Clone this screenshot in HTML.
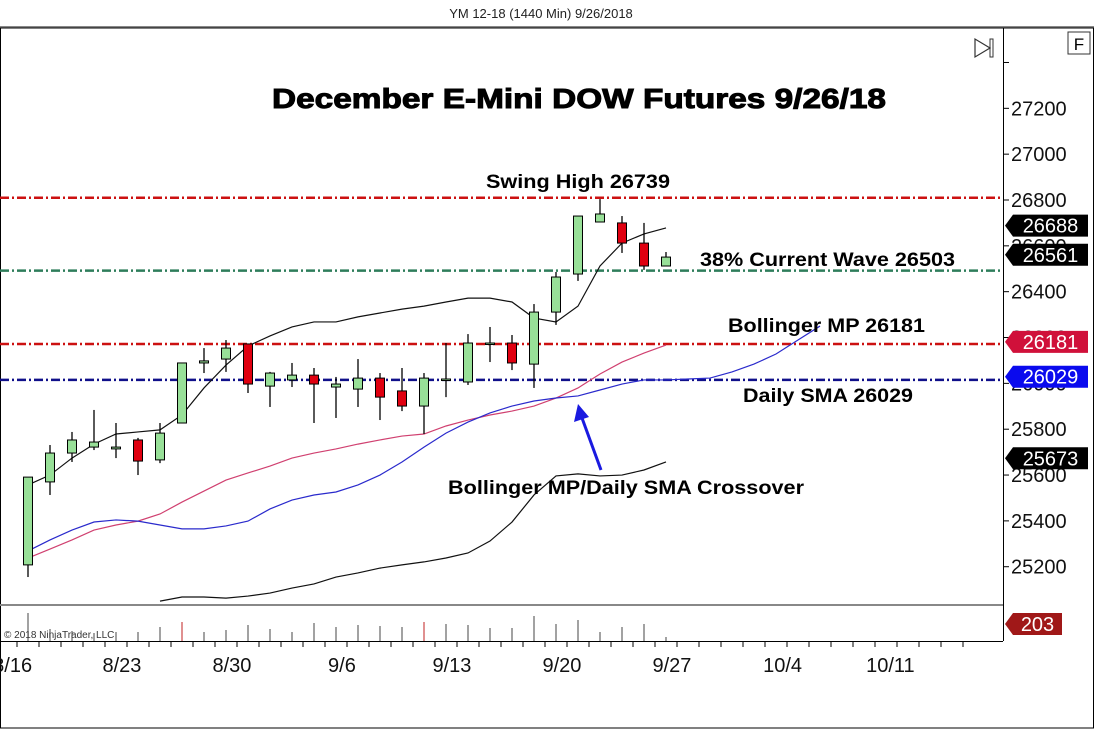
<!DOCTYPE html>
<html><head><meta charset="utf-8"><style>
body{margin:0;background:#fff;width:1094px;height:729px;overflow:hidden}
svg{display:block;font-family:"Liberation Sans",Arial,sans-serif}
</style></head><body>
<svg id="c" width="1094" height="729" viewBox="0 0 1094 729">
<text x="541" y="18" font-size="13" text-anchor="middle" fill="#222">YM 12-18 (1440 Min)  9/26/2018</text>
<rect x="0" y="26" width="1094" height="2" fill="#888"/>
<rect x="0.5" y="28" width="1093" height="700" fill="none" stroke="#000"/>
<g id="plot"></g>
<text x="272" y="108" font-size="28" font-weight="bold" stroke="#000" stroke-width="1" textLength="614" lengthAdjust="spacingAndGlyphs">December E-Mini DOW Futures 9/26/18</text>
<text x="486" y="188" font-size="19" font-weight="bold" textLength="184" lengthAdjust="spacingAndGlyphs">Swing High 26739</text>
<text x="700" y="266" font-size="19" font-weight="bold" textLength="255" lengthAdjust="spacingAndGlyphs">38% Current Wave 26503</text>
<text x="728" y="332" font-size="19" font-weight="bold" textLength="197" lengthAdjust="spacingAndGlyphs">Bollinger MP 26181</text>
<text x="743" y="402" font-size="19" font-weight="bold" textLength="170" lengthAdjust="spacingAndGlyphs">Daily SMA 26029</text>
<text x="448" y="494" font-size="19" font-weight="bold" textLength="356" lengthAdjust="spacingAndGlyphs">Bollinger MP/Daily SMA Crossover</text>
<g>
<line x1="601" y1="470" x2="582" y2="418" stroke="#1a1ae0" stroke-width="3"/>
<polygon points="578,404 574,422 589,417" fill="#1a1ae0"/>
</g>
<g><polygon points="975,39 975,57 990,48" fill="none" stroke="#333" stroke-width="1.2"/><rect x="990" y="39" width="3" height="18" fill="none" stroke="#333"/></g>
<g><rect x="1068" y="32" width="22" height="22" fill="#fff" stroke="#333"/><text x="1079" y="50" font-size="17" text-anchor="middle">F</text></g>
<text x="4" y="638" font-size="10" fill="#333">© 2018 NinjaTrader, LLC</text>
</svg>
<script>
const dates=['8/16','8/17','8/20','8/21','8/22','8/23','8/24','8/27','8/28','8/29','8/30','8/31','9/4','9/5','9/6','9/7','9/10','9/11','9/12','9/13','9/14','9/17','9/18','9/19','9/20','9/21','9/24','9/25','9/26','9/27'];
const open=[25208,25570,25696,25722,25714,25753,25666,25827,26089,26106,26172,25988,26015,26036,25984,25975,26023,25967,25901,26017,26006,26173,26176,26084,26311,26477,26704,26700,26612,26512];
const high=[25591,25731,25788,25884,25827,25762,25827,26089,26154,26189,26172,26050,26089,26067,26028,26106,26045,26067,26045,26176,26215,26246,26211,26346,26486,26730,26804,26730,26700,26573];
const low=[25155,25513,25657,25709,25674,25600,25652,25827,26045,26050,25958,25897,25984,25827,25849,25897,25840,25879,25779,25940,25993,26093,26058,25980,26255,26447,26704,26569,26495,26512];
const close=[25591,25696,25753,25744,25722,25661,25783,26089,26098,26154,25997,26045,26036,25997,25997,26023,25940,25901,26023,26019,26176,26176,26089,26311,26464,26730,26739,26612,26512,26551];
const volume=[280,120,100,80,90,90,140,190,90,110,160,120,90,180,140,160,150,140,190,170,160,130,130,250,170,210,90,140,170,40];
const volRed=[7,18];
const upperBand=[25557,25600,25674,25735,25779,25788,25797,25862,25980,26080,26163,26207,26246,26268,26268,26290,26307,26324,26337,26355,26372,26372,26355,26285,26268,26337,26512,26612,26652,26678];
const lowerBandStart=6;
const lowerBand=[25050,25068,25068,25063,25072,25085,25107,25125,25155,25173,25194,25208,25221,25238,25260,25312,25395,25513,25596,25605,25596,25600,25622,25657];
const midBand=[25238,25277,25317,25360,25382,25399,25430,25482,25530,25578,25609,25639,25674,25696,25714,25735,25753,25770,25779,25814,25840,25862,25879,25901,25936,25980,26041,26093,26132,26167];
const dailySMA=[25269,25317,25360,25395,25404,25399,25382,25365,25365,25378,25399,25452,25491,25513,25526,25557,25600,25657,25722,25783,25831,25871,25901,25923,25936,25945,25971,25997,26015,26015,26019,26023,26050,26084,26128,26189,26250];
const levels=[26810,26492,26172,26015];
const levelColors=['#cc1111','#2e7d5b','#cc1111','#10108a'];
const priceTicks=[27400,27200,27000,26800,26600,26400,26200,26000,25800,25600,25400,25200];
const dateLabels=['8/16','8/23','8/30','9/6','9/13','9/20','9/27','10/4','10/11'];
const dateLabelIdx=[-0.7,4.27,9.27,14.27,19.27,24.27,29.27,34.3,39.2];
const tagValues=[26688,26561,26181,26029,25673];
const tagColors=['#000','#000','#d0103a','#0a0aee','#000'];
const volTag=203;

const NS='http://www.w3.org/2000/svg';
const g=document.getElementById('plot');
const X=i=>28+i*22;
const Y=v=>200+(26800-v)*0.2292;
const VY=v=>641-v*0.1;
function el(t,a,p){const e=document.createElementNS(NS,t);for(const k in a)e.setAttribute(k,a[k]);(p||g).appendChild(e);return e;}
function tx(s,a){const e=el('text',a);e.textContent=s;return e;}

let e;
e=el('rect',{x:0,y:604,width:1003,height:2,fill:'#888'});


e=el('line',{x1:1003.5,y1:28,x2:1003.5,y2:641,stroke:'#000'});


e=el('line',{x1:0,y1:641.5,x2:1003,y2:641.5,stroke:'#000'});



priceTicks.forEach(v=>{const y=Y(v);
 e=el('line',{x1:1004,y1:y,x2:1009,y2:y,stroke:'#000'});
 
 
 if(v<27400){e=tx(String(v),{x:1011,y:y+7,'font-size':20,fill:'#111'});
 
 }
});
for(let i=-1;i<44;i++){const x=X(i)-11;if(x<0||x>1003)continue;
 e=el('line',{x1:x,y1:641,x2:x,y2:647,stroke:'#000'});
 
 }
dateLabels.forEach((s,k)=>{
 e=tx(s,{x:X(dateLabelIdx[k]),y:672,'font-size':20,'text-anchor':'middle',fill:'#111'});
 
 });

levels.forEach((v,k)=>{
 e=el('line',{x1:0,y1:Y(v),x2:1003,y2:Y(v),stroke:levelColors[k],'stroke-width':2.5,'stroke-dasharray':'9 3 2 3'});
 
 });

function poly(arr,start,color,name){const pts=arr.map((v,i)=>X(i+start)+','+Y(v)).join(' ');
 e=el('polyline',{points:pts,fill:'none',stroke:color,'stroke-width':1.2});
 
 }
poly(lowerBand,lowerBandStart,'#111','lower-band');
poly(midBand,0,'#d04070','bollinger-mp-line');
poly(dailySMA,0,'#2a2acc','daily-sma-line');
poly(upperBand,0,'#111','upper-band');

dates.forEach((d,i)=>{const x=X(i);const up=close[i]>=open[i];
 e=el('line',{x1:x,y1:Y(high[i]),x2:x,y2:Y(low[i]),stroke:'#000','stroke-width':1.3});
 
 
 const t=Y(Math.max(open[i],close[i])),b=Y(Math.min(open[i],close[i]));
 e=el('rect',{x:x-4.5,y:t,width:9,height:Math.max(b-t,1.5),fill:up?'#98e098':'#e00010',stroke:'#000','stroke-width':1});
 
 
 e=el('line',{x1:x,y1:VY(volume[i]),x2:x,y2:641,stroke:volRed.includes(i)?'#c02020':'#444','stroke-width':1});
 
 
});

function tag(v,y,color,w,name){
 e=el('polygon',{points:`${1005},${y} ${1013},${y-11} ${1005+w},${y-11} ${1005+w},${y+11} ${1013},${y+11}`,fill:color});
 
 
 e=tx(String(v),{x:1005+w/2+4,y:y+7,'font-size':20,fill:'#fff','text-anchor':'middle'});
 
 }
tagValues.forEach((v,k)=>tag(v,Y(v),tagColors[k],83,'price-tag'));
tag(volTag,624,'#a01818',57,'volume-tag');
</script>
</body></html>
